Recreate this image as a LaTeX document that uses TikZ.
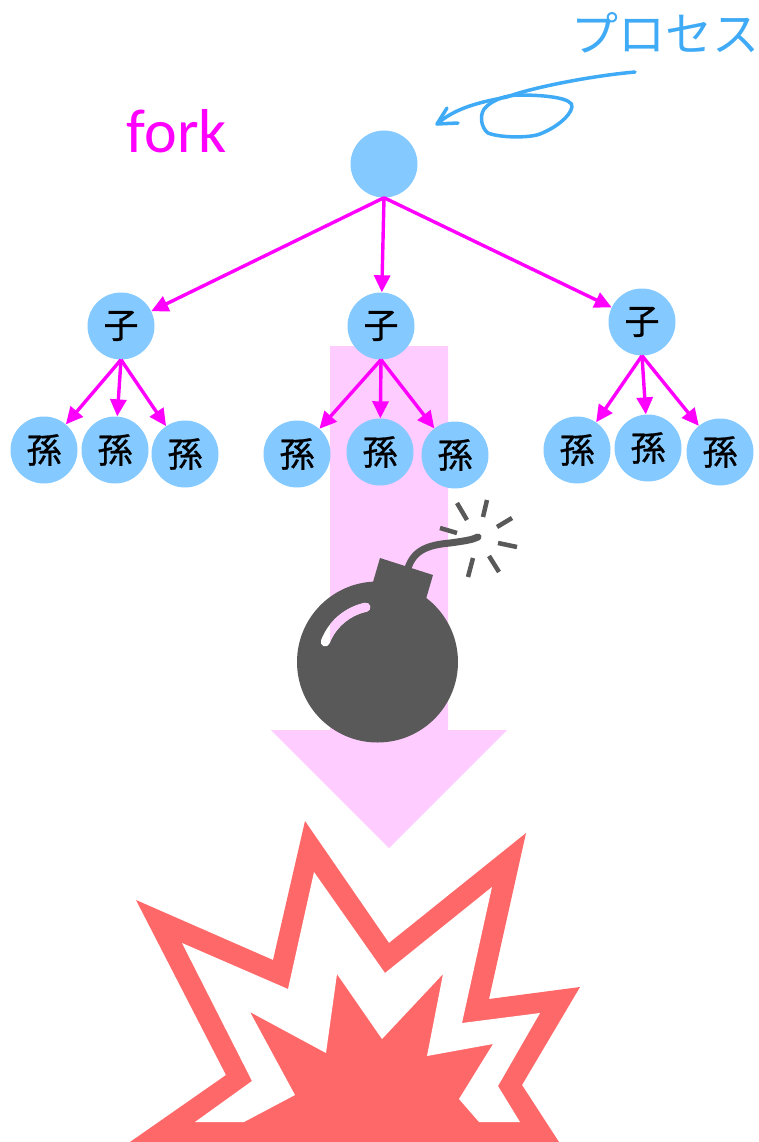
\documentclass[tikz,border=0pt]{standalone}
\usepackage{fontspec}
\setmainfont{Carlito}
\newfontfamily\jpfont{Noto Sans CJK JP}
\newfontfamily\jpnodefont[FakeBold=0.8]{Noto Sans CJK JP}
\usetikzlibrary{arrows.meta}
\definecolor{nodeblue}{HTML}{84C9FF}
\definecolor{inkblue}{HTML}{3FAAF5}
\definecolor{edgemag}{HTML}{FF00FF}
\definecolor{flowpink}{HTML}{FFCCFF}
\definecolor{bombgrey}{HTML}{595959}
\definecolor{blastred}{HTML}{FF6868}
\tikzset{
  proc/.style={circle, fill=nodeblue, minimum size=67pt, inner sep=0pt,
    font=\jpnodefont\fontsize{35}{35}\selectfont},
  forkedge/.style={draw=edgemag, line width=3.4pt,
    -{Triangle[length=17pt,width=16pt]}, fill=edgemag},
  spark/.style={draw=bombgrey, line width=4.5pt},
}
\begin{document}
\begin{tikzpicture}[x=1pt,y=-1pt]
\useasboundingbox (0,0) rectangle (759,1142);

% wide pink flow arrow behind the tree
\fill[flowpink] (330,346) -- (448,346) -- (448,730) -- (507,730) -- (389,848)
  -- (271,730) -- (330,730) -- cycle;

% process tree
\node[proc] (root) at (384,164) {};
\node[proc] (c1) at (121,326) {子};
\node[proc] (c2) at (381,326) {子};
\node[proc] (c3) at (642,322) {子};
\node[proc] (g11) at (44,450) {孫};
\node[proc] (g12) at (115,450) {孫};
\node[proc] (g13) at (185,454) {孫};
\node[proc] (g21) at (297,454) {孫};
\node[proc] (g22) at (380,452) {孫};
\node[proc] (g23) at (455,455) {孫};
\node[proc] (g31) at (577,450) {孫};
\node[proc] (g32) at (648,448) {孫};
\node[proc] (g33) at (720,452) {孫};

\foreach \c in {c1,c2,c3}
  \draw[forkedge] (root.south) -- (\c);
\foreach \p/\g in {c1/g11,c1/g12,c1/g13,c2/g21,c2/g22,c2/g23,c3/g31,c3/g32,c3/g33}
  \draw[forkedge] (\p.south) -- (\g);

% labels
\node[text=edgemag, font=\fontsize{62}{62}\selectfont, anchor=base] (forklbl) at (177,153) {fork};
\node[text=inkblue, font=\jpfont\fontsize{47}{47}\selectfont] (proclbl) at (665,33) {プロセス};

% hand-drawn pointer to the root process
\coordinate (pt) at (437,124);
\draw[inkblue, line width=3.5pt, line cap=round, line join=round]
  (635,72) .. controls (590,76) and (530,88) .. (507,97)
  .. controls (480,102) and (455,108) .. (pt);
\draw[inkblue, line width=3.5pt, line cap=round, line join=round]
  (447,108) -- (pt) -- (458,123);
\draw[inkblue, line width=3.5pt, line cap=round, line join=round]
  (487,106) .. controls (478,113) and (481,128) .. (488,133)
  .. controls (500,138) and (530,138) .. (540,134)
  .. controls (555,128) and (570,117) .. (572,107)
  .. controls (574,98) and (545,95) .. (520,95)
  .. controls (505,95) and (494,100) .. (487,106) -- cycle;

% bomb
\fill[bombgrey] (380,558) -- (433,575) -- (426,599) -- (373,582) -- cycle;
\draw[bombgrey, line width=7pt, line cap=round]
  (408,568) .. controls (414,550) and (428,545) .. (450,543)
  .. controls (464,541) and (472,540) .. (478,537);
\fill[bombgrey] (377.5,662) circle[radius=80.5];
\draw[white, line width=9pt, line cap=round] (377.5,662) ++(-102:56) arc[start angle=-102, end angle=-159, radius=56];
\begin{scope}
  \clip (330,346) rectangle (448,730);
  \draw[flowpink, line width=9pt, line cap=round] (377.5,662) ++(-102:56) arc[start angle=-102, end angle=-159, radius=56];
\end{scope}
\draw[spark] (457,503) -- (467,520);
\draw[spark] (487,500) -- (483,517);
\draw[spark] (512,518) -- (497,527);
\draw[spark] (440,528) -- (457,533);
\draw[spark] (498,543) -- (517,547);
\draw[spark] (473,558) -- (468,577);
\draw[spark] (489,556) -- (499,572);

% explosion
\fill[blastred] (305,821) -- (389,943) -- (526,833) -- (489,999) -- (580,987)
  -- (522,1085) -- (559,1142) -- (130,1142) -- (226,1075) -- (136,900)
  -- (273,960) -- cycle;
\fill[white] (314,872) -- (385,973) -- (492,887) -- (462,1023) -- (540,1013)
  -- (498,1086) -- (520,1122) -- (479,1122) -- (459,1099) -- (493,1044)
  -- (427,1056) -- (443,974) -- (382,1039) -- (337,974) -- (326,1053)
  -- (250,1012) -- (295,1095) -- (244,1122) -- (195,1122) -- (252,1081)
  -- (182,943) -- (288,989) -- cycle;
\end{tikzpicture}
\end{document}
